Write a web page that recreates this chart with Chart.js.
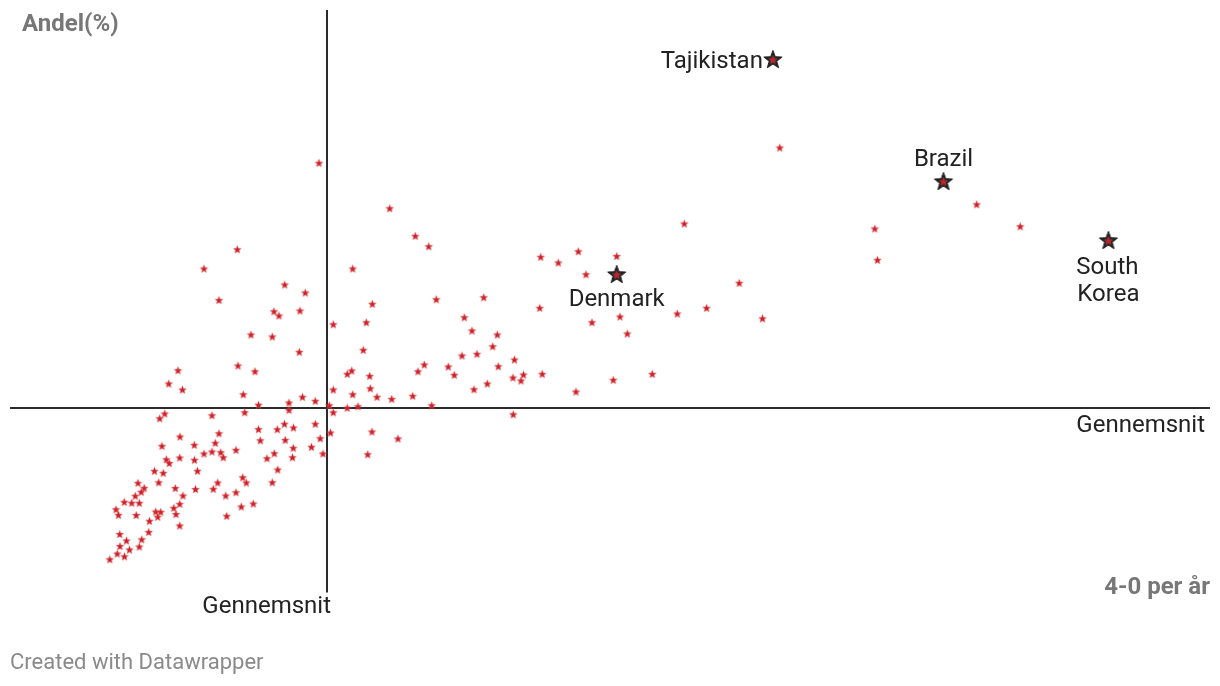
<!DOCTYPE html>
<html>
<head>
<meta charset="utf-8">
<script src="https://cdn.jsdelivr.net/npm/chart.js@4"></script>
<style>
  body { margin: 0; background: #fff; }
  #wrap { width: 1220px; height: 686px; }
</style>
</head>
<body>
<div id="wrap"><canvas id="ScatterChart" width="1220" height="686"></canvas></div>
<script>
// x: 4-0 per år, y: Andel(%)
const x_values = [
    15.87, 17.25, 23.33, 24.85, 27.9, 29.25, 30.53, 32.33, 31.93, 32.33,
    33.72, 15.47, 14.97, 20.2, 23.47, 27.9, 17.0, 20.9, 24.85, 26.73,
    27.45, 28.35, 30.53, 32.05, 15.2, 18.43, 20.53, 25.03, 27.52, 31.02,
    19.4, 20.2, 21.07, 21.33, 22.6, 28.33, 30.15, 31.3, 16.97, 15.63,
    15.93, 18.45, 25.7, 26.43, 28.25, 14.45, 15.33, 18.75, 26.77, 14.87,
    20.77, 23.27, 23.63, 26.23, 12.8, 13.42, 13.12, 16.53, 18.55, 20.33,
    22.6, 12.53, 17.3, 21.57, 11.43, 12.17, 12.93, 16.97, 23.13, 24.33,
    10.6, 10.85, 12.62, 14.57, 14.77, 15.07, 16.38, 16.6, 21.67, 13.95,
    16.97, 13.87, 13.17, 12.93, 10.97, 11.65, 11.0, 11.95, 11.45, 9.98,
    10.72, 30.9, 37.97, 22.73, 19.4, 27.47, 29.53, 20.9, 26.4, 26.9,
    29.0, 24.1, 26.23, 28.93, 22.8, 24.5, 16.8, 40.53, 41.87, 53.07,
    34.27, 36.23, 42.63, 47.37, 52.97, 32.33, 35.63, 45.43, 46.2, 48.73,
    48.27, 35.33, 45.2, 46.7, 50.45, 41.43, 40.8, 43.83, 44.43, 48.83,
    33.73, 34.17, 35.97, 50.3, 51.35, 51.1, 53.22, 47.73, 46.4, 34.27,
    36.03, 36.7, 38.17, 40.27, 42.17, 34.8, 50.32, 36.2, 35.77, 38.8,
    67.43, 54.83, 56.83, 60.67, 57.6, 72.92, 66.73, 69.66, 75.25, 58.2,
    61.0, 61.73, 60.33, 64.23, 56.6, 76.98, 96.67, 101.02, 86.48, 86.75
];

const y_values = [
    20.6, 20.0, 19.53, 18.48, 18.7, 19.27, 18.87, 20.0, 18.43, 17.73,
    18.18, 17.6, 17.13, 17.43, 17.73, 17.97, 15.3, 15.63, 16.04, 16.03,
    16.58, 16.2, 16.58, 15.7, 14.37, 14.47, 14.67, 14.93, 14.97, 15.13,
    13.6, 13.8, 13.73, 13.23, 13.97, 14.17, 14.27, 13.6, 13.2, 13.03,
    12.65, 12.97, 13.13, 13.63, 13.23, 11.87, 11.67, 11.88, 12.0, 10.72,
    10.7, 11.23, 10.7, 10.73, 10.67, 10.17, 9.77, 10.15, 10.05, 10.07,
    9.73, 9.38, 9.4, 9.4, 8.77, 8.68, 8.67, 8.57, 8.3, 8.6,
    8.03, 7.47, 7.45, 7.8, 7.28, 7.77, 8.17, 7.55, 7.37, 6.87,
    6.4, 5.76, 5.02, 4.3, 5.55, 4.9, 4.35, 4.0, 3.32, 3.03,
    3.6, 42.67, 38.13, 34.03, 32.1, 30.5, 29.7, 28.95, 27.83, 27.4,
    27.9, 25.5, 25.3, 23.77, 22.4, 21.83, 21.93, 35.37, 34.33, 33.27,
    32.1, 28.57, 29.03, 29.23, 28.17, 26.53, 26.73, 27.23, 25.9, 25.5,
    24.33, 23.97, 23.4, 23.57, 23.0, 22.5, 21.83, 22.3, 21.47, 22.33,
    21.57, 21.9, 21.37, 21.2, 21.5, 20.9, 21.57, 20.6, 20.03, 19.53,
    20.13, 19.27, 19.07, 19.37, 18.43, 18.33, 17.53, 15.8, 13.53, 15.1,
    36.6, 32.7, 33.83, 33.35, 31.53, 30.67, 27.6, 28.17, 27.12, 26.73,
    27.3, 25.6, 20.97, 21.57, 19.8, 44.2, 38.53, 36.33, 36.1, 32.97
];

const highlight_names = ['Tajikistan', 'Brazil', 'Denmark', 'South Korea'];
const highlight_x = [76.29, 93.35, 60.67, 109.84];
const highlight_y = [53.0, 40.8, 31.5, 34.9];

// gennemsnit (averages)
const x_avg = 31.7;
const y_avg = 18.2;

function makeStar(outer, inner, fill, stroke, lw) {
    const c = document.createElement('canvas');
    const size = Math.ceil(outer * 2 + lw * 2 + 2);
    c.width = size;
    c.height = size;
    const ctx = c.getContext('2d');
    ctx.translate(size / 2, size / 2);
    ctx.beginPath();
    for (let i = 0; i < 10; i++) {
        const r = i % 2 ? inner : outer;
        const a = -Math.PI / 2 + i * Math.PI / 5;
        ctx.lineTo(r * Math.cos(a), r * Math.sin(a));
    }
    ctx.closePath();
    if (stroke) {
        ctx.strokeStyle = stroke;
        ctx.lineWidth = lw;
        ctx.lineJoin = 'round';
        ctx.stroke();
    }
    ctx.fillStyle = fill;
    ctx.fill();
    return c;
}

const redStar = makeStar(3.9, 1.65, '#cf1f27', 'rgba(225,90,95,0.45)', 1.2);
const bigStar = makeStar(9.6, 4.0, '#232323', '#232323', 1);

const points = x_values.map((x, i) => ({ x: x, y: y_values[i] }));
const highlights = highlight_x.map((x, i) => ({ x: x, y: highlight_y[i] }));

const labelPlugin = {
    id: 'labels',
    afterDatasetsDraw(chart) {
        const ctx = chart.ctx;
        const xs = chart.scales.x;
        const ys = chart.scales.y;
        ctx.save();
        ctx.textBaseline = 'alphabetic';

        // country labels
        ctx.fillStyle = '#222';
        ctx.font = '24px Roboto';
        highlight_names.forEach((name, i) => {
            const px = xs.getPixelForValue(highlight_x[i]);
            const py = ys.getPixelForValue(highlight_y[i]);
            if (name === 'Tajikistan') {
                ctx.textAlign = 'right';
                ctx.fillText(name, px - 10, py + 8);
            } else if (name === 'Brazil') {
                ctx.textAlign = 'center';
                ctx.fillText(name, px, py - 16);
            } else if (name === 'Denmark') {
                ctx.textAlign = 'center';
                ctx.fillText(name, px, py + 31);
            } else {
                ctx.textAlign = 'center';
                ctx.fillText('South', px - 1, py + 33);
                ctx.fillText('Korea', px, py + 60);
            }
        });

        // average labels
        const ax = xs.getPixelForValue(x_avg);
        const ay = ys.getPixelForValue(y_avg);
        ctx.textAlign = 'right';
        ctx.fillText('Gennemsnit', chart.chartArea.right - 5, ay + 24);
        ctx.fillText('Gennemsnit', ax + 4, chart.chartArea.bottom + 23);

        // axis titles
        ctx.fillStyle = '#777';
        ctx.font = 'bold 24px Roboto';
        ctx.textAlign = 'left';
        ctx.fillText('Andel(%)', 22, 31);
        ctx.textAlign = 'right';
        ctx.fillText('4-0 per år', 1210, 594);

        // footer
        ctx.fillStyle = '#8a8a8a';
        ctx.font = '22px Roboto';
        ctx.textAlign = 'left';
        ctx.fillText('Created with Datawrapper', 10, 669);
        ctx.restore();
    }
};

const scatter_data = {
    datasets: [{
        label: 'Highlight',
        data: highlights,
        pointStyle: redStar,
        order: 0
    }, {
        label: 'Highlight outline',
        data: highlights,
        pointStyle: bigStar,
        order: 1
    }, {
        label: 'Lande',
        data: points,
        pointStyle: redStar,
        order: 2
    }, {
        type: 'line',
        label: 'Gennemsnit x',
        data: [{ x: x_avg, y: -0.25 }, { x: x_avg, y: 58 }],
        borderColor: '#2b2b2b',
        borderWidth: 2,
        pointRadius: 0,
        clip: false,
        order: 3
    }, {
        type: 'line',
        label: 'Gennemsnit y',
        data: [{ x: 0, y: y_avg }, { x: 120, y: y_avg }],
        borderColor: '#2b2b2b',
        borderWidth: 2,
        pointRadius: 0,
        clip: false,
        order: 3
    }]
};

const configScatter = {
    type: 'scatter',
    data: scatter_data,
    options: {
        responsive: false,
        animation: false,
        layout: {
            padding: { left: 10, right: 10, top: 10, bottom: 96 }
        },
        scales: {
            x: { type: 'linear', min: 0, max: 120, display: false },
            y: { type: 'linear', min: 0, max: 58, display: false }
        },
        plugins: {
            legend: { display: false },
            tooltip: { enabled: false }
        }
    },
    plugins: [labelPlugin]
};

const ScatterChart = new Chart(
    document.getElementById('ScatterChart'),
    configScatter
);
</script>
</body>
</html>
